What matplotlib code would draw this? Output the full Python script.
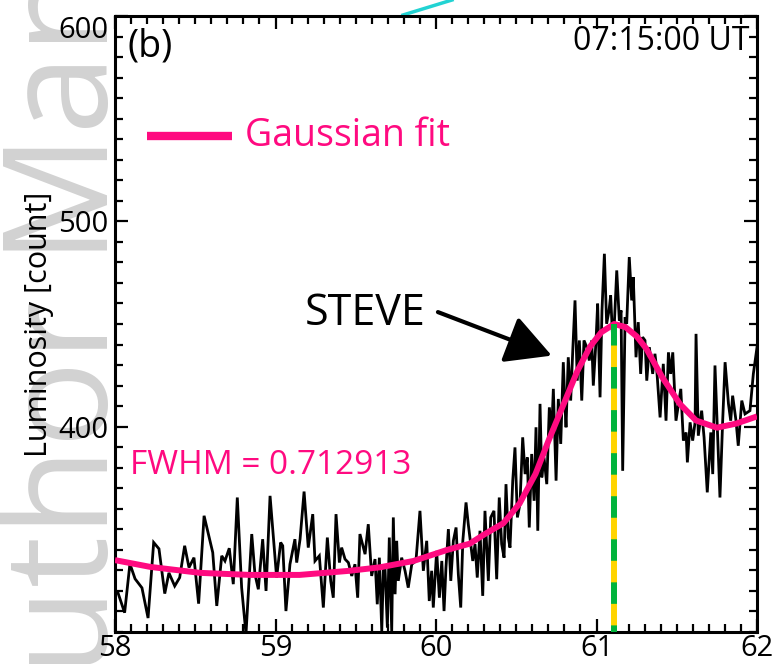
import matplotlib
matplotlib.use("Agg")
import matplotlib.pyplot as plt
from matplotlib.lines import Line2D
from matplotlib.ticker import MultipleLocator

plt.rcParams['font.family'] = ['Open Sans', 'DejaVu Sans']
plt.rcParams['lines.scale_dashes'] = False

# ---------------- data ----------------
obs_x = [58.019, 58.060, 58.093, 58.125, 58.168, 58.206, 58.241, 58.274, 58.310, 58.336,
         58.372, 58.403, 58.434, 58.461, 58.492, 58.521, 58.555, 58.609, 58.634, 58.665,
         58.685, 58.712, 58.737, 58.762, 58.789, 58.816, 58.852, 58.872, 58.893, 58.920,
         58.941, 58.966, 59.007, 59.032, 59.045, 59.065, 59.090, 59.121, 59.132, 59.153,
         59.178, 59.204, 59.232, 59.246, 59.273, 59.298, 59.323, 59.344, 59.360, 59.377,
         59.398, 59.412, 59.433, 59.454, 59.475, 59.495, 59.512, 59.526, 59.558, 59.578,
         59.599, 59.620, 59.634, 59.647, 59.662, 59.672, 59.682, 59.697, 59.709, 59.724,
         59.734, 59.745, 59.755, 59.765, 59.786, 59.807, 59.827, 59.849, 59.875, 59.900,
         59.921, 59.942, 59.958, 59.973, 59.983, 60.004, 60.021, 60.036, 60.050, 60.062,
         60.077, 60.092, 60.108, 60.125, 60.139, 60.154, 60.167, 60.187, 60.201, 60.229,
         60.243, 60.257, 60.274, 60.291, 60.305, 60.326, 60.341, 60.361, 60.378, 60.394,
         60.409, 60.424, 60.436, 60.450, 60.461, 60.478, 60.492, 60.507, 60.523, 60.540,
         60.555, 60.569, 60.581, 60.596, 60.611, 60.623, 60.634, 60.648, 60.659, 60.673,
         60.690, 60.706, 60.721, 60.731, 60.748, 60.762, 60.777, 60.793, 60.804, 60.810,
         60.824, 60.839, 60.852, 60.866, 60.880, 60.893, 60.908, 60.922, 60.939, 60.955,
         60.970, 60.980, 60.997, 61.007, 61.022, 61.034, 61.049, 61.063, 61.078, 61.088,
         61.101, 61.111, 61.126, 61.142, 61.153, 61.163, 61.178, 61.188, 61.204, 61.219,
         61.229, 61.246, 61.260, 61.275, 61.287, 61.302, 61.313, 61.329, 61.350, 61.364,
         61.375, 61.396, 61.416, 61.433, 61.448, 61.462, 61.475, 61.495, 61.525, 61.541,
         61.558, 61.566, 61.583, 61.599, 61.614, 61.620, 61.634, 61.655, 61.670, 61.690,
         61.712, 61.724, 61.738, 61.769, 61.786, 61.801, 61.822, 61.836, 61.848, 61.869,
         61.883, 61.905, 61.925, 61.956, 61.977, 62.000]
obs_y = [319.0, 309.4, 333.2, 325.9, 321.5, 306.8, 343.6, 340.5, 318.7, 328.8,
         322.4, 326.5, 342.0, 331.4, 336.2, 313.8, 356.6, 338.7, 312.7, 337.1,
         334.6, 340.8, 323.3, 365.5, 321.6, 299.0, 347.7, 328.1, 320.8, 345.2,
         320.0, 366.3, 326.5, 343.6, 342.0, 310.2, 333.0, 345.2, 333.8, 345.2,
         368.4, 341.1, 357.4, 334.6, 337.1, 311.9, 346.0, 324.9, 316.7, 357.4,
         333.8, 341.1, 335.5, 333.8, 327.3, 333.0, 316.7, 347.7, 337.9, 352.5,
         327.3, 335.5, 313.5, 336.2, 300.5, 330.0, 331.4, 302.1, 346.0, 300.5,
         355.8, 318.4, 344.4, 324.9, 336.2, 329.8, 321.6, 333.0, 334.6, 359.0,
         329.8, 344.4, 315.1, 329.8, 311.9, 339.5, 316.7, 334.6, 310.2, 331.4,
         350.1, 324.9, 344.4, 350.9, 328.1, 311.9, 344.4, 363.1, 352.5, 334.6,
         342.8, 326.5, 349.3, 317.6, 359.0, 324.9, 355.8, 359.0, 325.7, 365.5,
         342.8, 336.2, 372.0, 346.0, 341.1, 373.7, 389.9, 355.8, 362.3, 394.8,
         376.9, 385.0, 350.9, 386.7, 363.9, 399.7, 349.3, 411.1, 375.3, 385.0,
         372.0, 409.4, 398.0, 418.4, 373.7, 413.5, 391.6, 431.4, 409.4, 399.7,
         433.8, 412.7, 437.1, 461.5, 422.4, 442.0, 412.7, 442.0, 438.7, 432.2,
         442.0, 420.0, 442.0, 459.9, 414.3, 456.6, 484.2, 450.1, 456.6, 463.9,
         442.0, 450.1, 476.1, 451.7, 456.6, 378.5, 453.3, 450.1, 482.6, 461.5,
         472.8, 433.8, 450.9, 425.7, 443.6, 442.0, 422.4, 438.7, 425.7, 435.5,
         428.1, 404.5, 430.6, 402.9, 436.2, 425.7, 436.2, 402.9, 418.4, 393.2,
         397.2, 382.6, 402.1, 393.2, 402.1, 445.2, 395.6, 407.8, 394.8, 368.0,
         397.2, 376.9, 429.8, 365.5, 402.9, 431.4, 411.1, 402.9, 415.1, 402.9,
         390.7, 412.7, 406.2, 407.8, 425.7, 438.7]

fit_x = [58.00, 58.22, 58.53, 58.84, 59.15, 59.46, 59.65, 59.86, 60.07, 60.21,
         60.30, 60.42, 60.52, 60.62, 60.70, 60.79, 60.88, 60.96, 61.03, 61.11,
         61.18, 61.25, 61.31, 61.41, 61.52, 61.62, 61.75, 61.87, 62.00]
fit_y = [335.0, 331.7, 328.8, 327.8, 327.8, 329.8, 331.5, 334.6, 340.0, 343.0,
         347.5, 353.0, 362.5, 377.0, 393.0, 410.0, 427.0, 439.0, 446.0, 450.0,
         448.5, 444.0, 438.0, 424.0, 411.0, 403.0, 399.5, 401.5, 405.0]

peak_x = 61.11
peak_y = 450.0
fwhm = 0.712913
time_label = "07:15:00 UT"
panel_label = "(b)"
x_range = (58, 62)
y_range = (300, 600)
x_ticks = [58, 59, 60, 61, 62]
y_ticks = [400, 500, 600]

PINK = '#FF0A80'

# ---------------- figure ----------------
fig = plt.figure(figsize=(7.77, 6.64), dpi=100)

# faint watermark in the left margin (behind the axes)
fig.text(0.139, -0.155, "Author Manuscript", rotation=90, rotation_mode='anchor',
         ha='left', va='baseline', fontsize=104, color='#d2d2d2', zorder=0,
         family=['Open Sans', 'DejaVu Sans'])

ax = fig.add_axes([0.1480, 0.0482, 0.8263, 0.9277])
ax.set_facecolor('white')
ax.set_zorder(1)

ax.plot(obs_x, obs_y, color='black', lw=2.0, zorder=2, solid_joinstyle='miter')
ax.plot(fit_x, fit_y, color=PINK, lw=4.3, zorder=3, solid_capstyle='butt')

# peak marker: yellow/green dashed vertical line
ax.plot([peak_x, peak_x], [y_range[0], peak_y], color='#FFD400', lw=4.3, zorder=4,
        solid_capstyle='butt')
ax.plot([peak_x, peak_x], [peak_y, y_range[0]], color='#00B43C', lw=4.3, zorder=5,
        dashes=(15.5, 15.5), dash_capstyle='butt')

ax.set_xlim(*x_range)
ax.set_ylim(*y_range)
ax.set_xticks(x_ticks)
ax.set_yticks(y_ticks)
ax.xaxis.set_minor_locator(MultipleLocator(0.1))
ax.yaxis.set_minor_locator(MultipleLocator(10))
ax.tick_params(which='both', direction='in', top=True, right=True, width=1.6,
               labelsize=21, colors='black')
ax.tick_params(which='major', length=9.5)
ax.tick_params(which='minor', length=5.5)
ax.tick_params(axis='y', which='major', pad=5)
ax.tick_params(axis='x', which='major', pad=1.5)
for s in ax.spines.values():
    s.set_linewidth(2.2)

ax.set_ylabel("Luminosity [count]", fontsize=22, labelpad=3)

# legend entry
ax.plot([0.050, 0.182], [0.806, 0.806], color=PINK, lw=6, transform=ax.transAxes,
        solid_capstyle='butt', zorder=6)
ax.text(0.203, 0.806, "Gaussian fit", color=PINK, fontsize=27, transform=ax.transAxes,
        ha='left', va='center', zorder=6)

ax.text(0.019, 0.982, panel_label, fontsize=27, transform=ax.transAxes,
        ha='left', va='top', zorder=6)
ax.text(0.988, 0.958, time_label, fontsize=23, transform=ax.transAxes,
        ha='right', va='center', zorder=6)
ax.text(0.023, 0.271, f"FWHM = {fwhm:.6f}", color=PINK, fontsize=24,
        transform=ax.transAxes, ha='left', va='center', zorder=6)

# STEVE annotation
ax.text(59.18, 455.1, "STEVE", fontsize=31, ha='left', va='center', zorder=6)
ax.annotate("", xy=(60.721, 434.6), xytext=(60.012, 455.8),
            arrowprops=dict(arrowstyle="-|>,head_length=1.4,head_width=0.75",
                            mutation_scale=20, lw=3, color='black',
                            shrinkA=0, shrinkB=0), zorder=6)

# fragment of the neighbouring panel's cyan line above the frame
fig.add_artist(Line2D([403 / 777, 452 / 777], [1 - 15 / 664, 1.0],
                      transform=fig.transFigure, color='#22D3D3', lw=2.5, zorder=0))

fig.canvas.draw()
# the top y label sits just below its tick, as in the reference
ax.get_yticklabels()[-1].set_va('top')

fig.savefig("out.png", dpi=100)
